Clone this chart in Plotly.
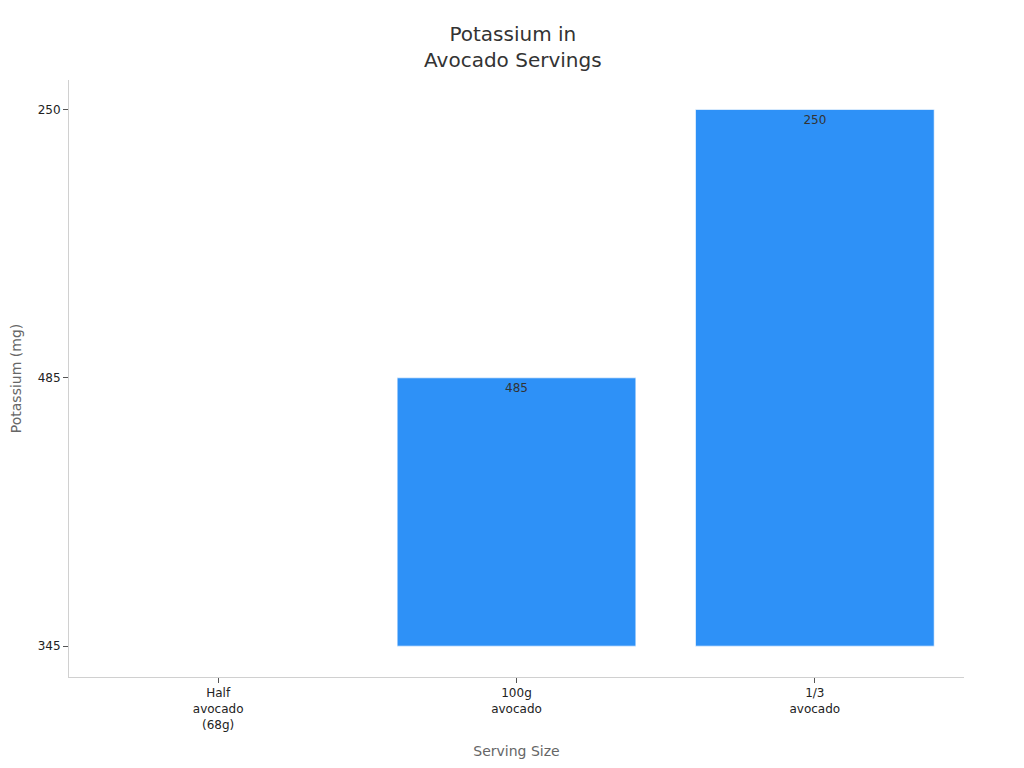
import plotly.graph_objects as go

# Serving sizes and potassium readings (the y axis is categorical in the source)
servings = ["Half<br>avocado<br>(68g)", "100g<br>avocado", "1/3<br>avocado"]
potassium_mg = ["345", "485", "250"]

fig = go.Figure()
fig.add_trace(go.Bar(
    x=servings,
    y=potassium_mg,
    text=potassium_mg,
    textposition="inside",
    insidetextanchor="end",
    textfont=dict(color="#333333", size=12),
    marker=dict(color="#2E91F7", line=dict(color="rgba(255,255,255,0.6)", width=1)),
    width=0.8,
))

fig.update_xaxes(
    title_text="Serving Size",
    title_font=dict(color="#666666", size=14),
    tickfont=dict(color="#222222", size=12),
    showline=True, linecolor="#d0d0d0", linewidth=1,
    ticks="outside", tickcolor="#555555", ticklen=5,
    showgrid=False, zeroline=False,
    range=[-0.5, 2.5],
)
fig.update_yaxes(
    title_text="Potassium (mg)",
    title_font=dict(color="#666666", size=14),
    tickfont=dict(color="#222222", size=12),
    type="category",
    categoryorder="array", categoryarray=potassium_mg,
    showline=True, linecolor="#d0d0d0", linewidth=1,
    ticks="outside", tickcolor="#555555", ticklen=5,
    showgrid=False, zeroline=False,
    automargin=False,
    range=[-0.115, 2.11],
)

fig.update_layout(
    title=dict(text="Potassium in<br>Avocado Servings", x=0.493, xanchor="center",
               y=0.957, font=dict(size=20, color="#333333")),
    font=dict(family="DejaVu Sans"),
    width=1024, height=768,
    margin=dict(l=61, r=68, t=72, b=99),
    plot_bgcolor="white", paper_bgcolor="white",
    showlegend=False,
    bargap=0.2,
)

fig.write_html("out.html")
